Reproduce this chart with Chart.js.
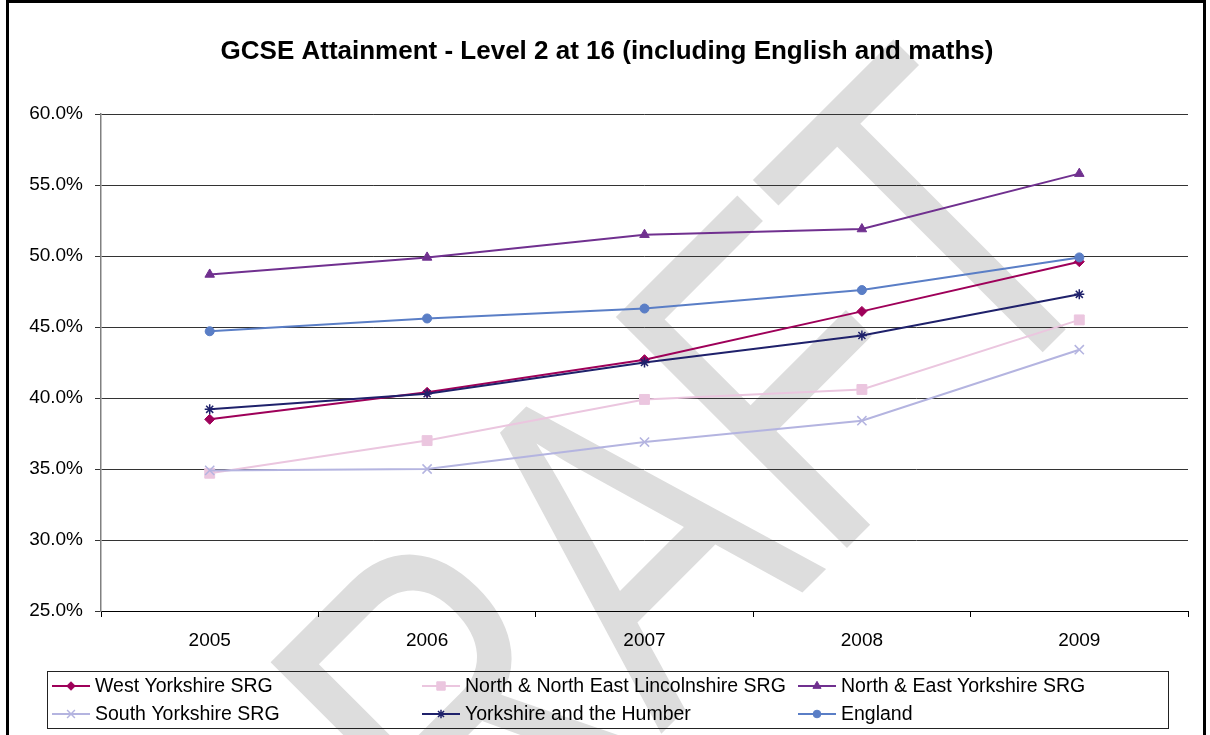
<!DOCTYPE html>
<html>
<head>
<meta charset="utf-8">
<script src="https://cdn.jsdelivr.net/npm/chart.js@4/dist/chart.umd.min.js"></script>
<style>
  html, body { margin: 0; padding: 0; background: #fff; }
  #wrap { width: 1210px; height: 735px; }
</style>
</head>
<body>
<div id="wrap"><canvas id="chart" width="1210" height="735"></canvas></div>
<script>
const years = ['2005', '2006', '2007', '2008', '2009'];
const westYorkshire = [38.5, 40.4, 42.7, 46.1, 49.6];
const northLincs = [34.7, 37.0, 39.9, 40.6, 45.5];
const northEastYorkshire = [48.7, 49.9, 51.5, 51.9, 55.8];
const southYorkshire = [34.9, 35.0, 36.9, 38.4, 43.4];
const yorksHumber = [39.2, 40.3, 42.5, 44.4, 47.3];
const england = [44.7, 45.6, 46.3, 47.6, 49.9];
const seriesNames = [
  'West Yorkshire SRG',
  'North & North East Lincolnshire SRG',
  'North & East Yorkshire SRG',
  'South Yorkshire SRG',
  'Yorkshire and the Humber',
  'England'
];
const titleText = 'GCSE Attainment - Level 2 at 16 (including English and maths)';

const FONT = '"Liberation Sans", Arial, sans-serif';

function series(i, data, color, style, radius, order) {
  return {
    label: seriesNames[i],
    data: data,
    borderColor: color,
    backgroundColor: color,
    borderWidth: 2,
    pointStyle: style,
    pointRadius: radius,
    pointBorderWidth: style === 'crossRot' || style === 'star' ? 1.5 : 1,
    pointBackgroundColor: color,
    pointBorderColor: color,
    tension: 0,
    order: order
  };
}

// grey DRAFT watermark sits behind everything
const draftPlugin = {
  id: 'draft',
  beforeDraw(chart) {
    const ctx = chart.ctx;
    ctx.save();
    ctx.fillStyle = '#fff';
    ctx.fillRect(0, 0, chart.width, chart.height);
    ctx.translate(716, 679);
    ctx.rotate(-Math.PI / 4);
    ctx.scale(0.74, 1);
    ctx.font = '475px ' + FONT;
    ctx.textAlign = 'center';
    ctx.textBaseline = 'alphabetic';
    ctx.fillStyle = '#dddddd';
    ctx.fillText('DRAFT', 0, 0);
    ctx.restore();
  }
};

// frame, title and the boxed legend
const framePlugin = {
  id: 'frame',
  afterDraw(chart) {
    const ctx = chart.ctx;
    ctx.save();
    ctx.strokeStyle = '#000';
    ctx.lineWidth = 3;
    ctx.strokeRect(7.5, 1.5, 1197, 800);

    ctx.fillStyle = '#000';
    ctx.font = 'bold 26px ' + FONT;
    ctx.textAlign = 'center';
    ctx.textBaseline = 'alphabetic';
    ctx.fillText(titleText, 607, 59);

    ctx.lineWidth = 1;
    ctx.strokeStyle = '#222';
    ctx.strokeRect(47.5, 671.5, 1121, 57);

    const cols = [52, 422, 798];
    const rows = [686, 714];
    ctx.font = '19.5px ' + FONT;
    ctx.textAlign = 'left';
    ctx.textBaseline = 'middle';
    chart.data.datasets.forEach((ds, i) => {
      const x = cols[i % 3];
      const y = rows[Math.floor(i / 3)];
      ctx.strokeStyle = ds.borderColor;
      ctx.fillStyle = ds.borderColor;
      ctx.lineWidth = 2;
      ctx.beginPath();
      ctx.moveTo(x, y);
      ctx.lineTo(x + 38, y);
      ctx.stroke();
      ctx.lineWidth = ds.pointBorderWidth;
      Chart.helpers.drawPoint(ctx, {
        pointStyle: ds.pointStyle,
        radius: ds.pointRadius * 0.85,
        rotation: 0,
        borderWidth: ds.pointBorderWidth
      }, x + 19, y);
      ctx.fillStyle = '#000';
      ctx.fillText(ds.label, x + 43, y + 1);
    });
    ctx.restore();
  }
};

new Chart(document.getElementById('chart'), {
  type: 'line',
  data: {
    labels: years,
    datasets: [
      series(0, westYorkshire, '#9E0059', 'rectRot', 5, 5),
      series(1, northLincs, '#EBC6DF', 'rect', 7, 4),
      series(2, northEastYorkshire, '#70308F', 'triangle', 5.5, 3),
      series(3, southYorkshire, '#B4B4E0', 'crossRot', 6.5, 2),
      series(4, yorksHumber, '#1F216B', 'star', 5, 1),
      series(5, england, '#5A7EC6', 'circle', 4.5, 0)
    ]
  },
  options: {
    responsive: false,
    animation: false,
    devicePixelRatio: 1,
    layout: { padding: { top: 114, right: 22, bottom: 0, left: 0 } },
    plugins: {
      legend: { display: false },
      title: { display: false },
      tooltip: { enabled: false }
    },
    scales: {
      x: {
        offset: true,
        afterFit: s => { s.height = 124; },
        grid: {
          offset: true,
          drawOnChartArea: false,
          drawTicks: true,
          tickLength: 6,
          color: '#000'
        },
        border: { color: '#000', width: 1 },
        ticks: {
          color: '#000',
          padding: 12,
          font: { family: FONT, size: 19 }
        }
      },
      y: {
        min: 25,
        max: 60,
        afterFit: s => { s.width = 101; },
        grid: {
          color: '#333',
          lineWidth: 1,
          tickLength: 6
        },
        border: { color: '#808080', width: 1.5 },
        ticks: {
          stepSize: 5,
          color: '#000',
          padding: 12,
          font: { family: FONT, size: 19 },
          callback: v => v.toFixed(1) + '%'
        }
      }
    }
  },
  plugins: [draftPlugin, framePlugin]
});
</script>
</body>
</html>
